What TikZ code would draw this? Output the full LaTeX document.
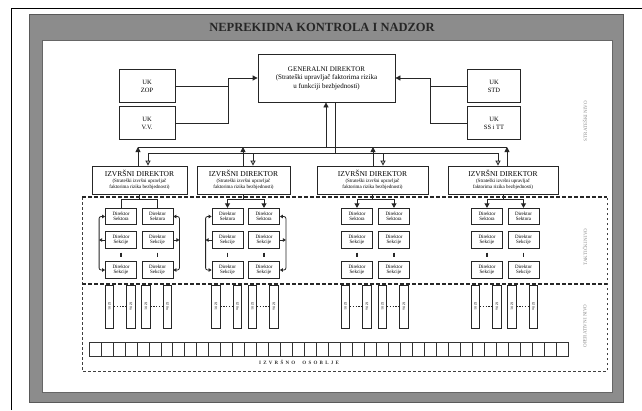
\documentclass[tikz,border=0pt]{standalone}
\usepackage{fontspec}
\setmainfont{Liberation Serif}
\newfontfamily\spacedfont[LetterSpace=45]{Liberation Serif}
\usetikzlibrary{arrows.meta}
\usetikzlibrary{positioning}

\begin{document}
\begin{tikzpicture}[x=1pt, y=-1pt,
    box/.style={draw=black!85, line width=0.8pt, inner sep=0pt, align=center},
    gdbox/.style={box, minimum width=137pt, minimum height=48pt, font=\fontsize{7}{8.5}\selectfont},
    ukbox/.style={box, minimum width=56pt, minimum height=33pt, font=\fontsize{6.5}{8}\selectfont},
    izbox/.style={box, minimum height=28pt, font=\fontsize{5}{6}\selectfont},
    secbox/.style={box, minimum width=31pt, minimum height=16.5pt, font=\fontsize{5}{5.5}\selectfont},
    izvbox/.style={box, line width=0.6pt, minimum width=8.5pt, minimum height=43pt, font=\fontsize{3.5}{4}\selectfont},
    cell/.style={draw=black!80, line width=0.7pt, minimum width=11.975pt, minimum height=14pt, inner sep=0pt},
    nivo/.style={rotate=90, text=black!45, font=\fontsize{5}{6}\selectfont},
    link/.style={draw=black!85, line width=0.8pt},
    uparrow/.style={link, -{Triangle[length=5pt, width=5pt]}},
    downarrow/.style={link, -{Triangle[open, length=5pt, width=5pt, fill=gray!40]}},
    forkarrow/.style={link, -{Triangle[length=4.5pt, width=5pt]}},
    shortlink/.style={draw=black!85, line width=1.3pt},
    dotlink/.style={draw=black!85, line width=1.2pt, dash pattern=on 1.2pt off 1.6pt},
    maindash/.style={draw=black!85, line width=1.3pt, dash pattern=on 3.5pt off 2.5pt},
    sidedash/.style={draw=black!75, line width=0.8pt, dash pattern=on 2.5pt off 2.5pt}]
  \useasboundingbox (0,0) rectangle (642,410);
  % frame
  \fill[black!45] (29,14) rectangle (623,402);
  \draw[black!65, line width=0.6pt] (29,14) rectangle (623,402);
  \fill[white] (42,40) rectangle (612,392);
  \draw[black!60, line width=0.5pt] (42,40) rectangle (612,392);
  \draw[line width=0.6pt] (11,410) -- (11,8) -- (642,8);
  \node[font=\fontsize{12.5}{14}\selectfont\bfseries, text=black!85] (title) at (322,27) {NEPREKIDNA KONTROLA I NADZOR};

  % strateski nivo
  \node[gdbox] (gd) at (326.5,78) {GENERALNI DIREKTOR\\(Strateški upravljač faktorima rizika\\u funkciji bezbjednosti)};
  \node[ukbox] (zop) at (147,86) {UK\\ZOP};
  \node[ukbox] (vv) at (147,123) {UK\\V.V.};
  \node[ukbox, minimum width=53pt] (std) at (494,86) {UK\\STD};
  \node[ukbox, minimum width=53pt] (sstt) at (494,123) {UK\\SS i TT};
  \coordinate (lj) at (228,78);
  \coordinate (rj) at (430,78);
  \draw[link] (zop.east) -| (lj);
  \draw[uparrow] (vv.east) -| (lj) -- (lj -| gd.west);
  \draw[link] (std.west) -| (rj);
  \draw[uparrow] (sstt.west) -| (rj) -- (rj -| gd.east);

  % izvrsni direktori
  \coordinate (upbus) at (326,147);
  \coordinate (dnbus) at (335,153);
  \foreach \i/\cx/\w/\ux/\dx in {1/139.5/95/138/148, 2/243.5/93/243/253, 3/372.5/111/373/383, 4/503/110/507/498} {
    \node[izbox, minimum width=\w pt] (iz\i) at (\cx,180) {{\fontsize{7.5}{8.5}\selectfont IZVRŠNI DIREKTOR}\\(Strateški izvršni upravljač\\faktorima rizika bezbjednosti)};
    \coordinate (u\i) at (\ux,147);
    \coordinate (d\i) at (\dx,153);
    \draw[uparrow] (iz\i.north -| u\i) -- (u\i);
    \draw[downarrow] (d\i) -- (d\i |- iz\i.north);
  }
  \draw[link] (u1) -- (u4);
  \draw[link] (d1) -- (d4);
  \draw[uparrow] (upbus) -- (upbus |- gd.south);
  \draw[link] (gd.south -| dnbus) -- (dnbus);

  % takticki i operativni nivo
  \foreach \i/\lx/\rx/\fs in {1/121/157.5/link, 2/227.5/264/forkarrow, 3/357/394/forkarrow, 4/487/523.5/forkarrow} {
    \foreach \side/\x in {a/\lx, b/\rx} {
      \node[secbox] (s\i\side1) at (\x,216.5) {Direktor\\Sektora};
      \node[secbox] (s\i\side2) at (\x,240) {Direktor\\Sekcije};
      \node[secbox] (s\i\side3) at (\x,270) {Direktor\\Sekcije};
      \draw[shortlink] ([yshift=-4pt]s\i\side2.south) -- ([yshift=4pt]s\i\side3.north);
      \node[izvbox] (o\i\side1) at (\x-11.5,306.5) {\rotatebox{-90}{IZ 01}};
      \node[izvbox] (o\i\side2) at (\x+10,306.5) {\rotatebox{-90}{IZ 0n}};
      \draw[dotlink] (o\i\side1) -- (o\i\side2);
    }
    \coordinate (fk\i) at ([yshift=-5pt]iz\i.south);
    \draw[link] (iz\i.south) -- (fk\i);
    \draw[link] (fk\i -| s\i a1) -- (fk\i -| s\i b1);
    \draw[\fs] (fk\i -| s\i a1) -- (s\i a1.north);
    \draw[\fs] (fk\i -| s\i b1) -- (s\i b1.north);
  }
  \foreach \i in {1,2} {
    \coordinate (bl\i) at ([xshift=-6pt]s\i a2.west);
    \coordinate (br\i) at ([xshift=6pt]s\i b2.east);
    \draw[link, rounded corners=2pt, {Triangle[length=3pt, width=3.5pt]}-{Triangle[length=3pt, width=3.5pt]}] (s\i a1.west) -| (bl\i) |- (s\i a3.west);
    \draw[link, -{Triangle[length=3pt, width=3.5pt]}] (s\i a2.west) -- (bl\i);
    \draw[link, rounded corners=2pt, {Triangle[length=3pt, width=3.5pt]}-{Triangle[length=3pt, width=3.5pt]}] (s\i b1.east) -| (br\i) |- (s\i b3.east);
    \draw[link, -{Triangle[length=3pt, width=3.5pt]}] (s\i b2.east) -- (br\i);
  }

  % izvrsno osoblje
  \foreach \k in {0,...,39} {
    \node[cell] (c\k) at ({95+\k*11.975},349) {};
  }
  \node[font=\spacedfont\fontsize{5}{6}\selectfont\bfseries, text=black!80] (osoblje) at (299,362) {IZVRŠNO\hspace{7pt}OSOBLJE};

  % dashed regions
  \coordinate (tacnw) at (82,197);
  \coordinate (tacne) at (607,197);
  \coordinate (opw) at (82,284);
  \coordinate (ope) at (607,284);
  \coordinate (opsw) at (82,371);
  \coordinate (opse) at (607,371);
  \draw[sidedash] (tacnw) -- (opsw) -- (opse) -- (tacne);
  \draw[maindash] (tacnw) -- (tacne);
  \draw[maindash] (opw) -- (ope);

  \node[nivo] (strat) at (585,121) {STRATEŠKI NIVO};
  \node[nivo] (takt) at (585,247) {TAKTIČKI NIVO};
  \node[nivo] (oper) at (585,326) {OPERATIVNI NIVO};
\end{tikzpicture}
\end{document}
